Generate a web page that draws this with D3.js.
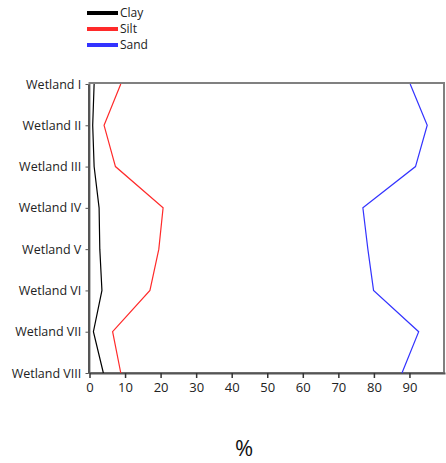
<!DOCTYPE html>
<html>
<head>
<meta charset="utf-8">
<script src="https://cdn.jsdelivr.net/npm/d3@7"></script>
<style>
  body { margin: 0; background: #fff; }
  svg { display: block; font-family: "Open Sans", "Noto Sans", sans-serif; }
</style>
</head>
<body>
<div id="chart"></div>
<script>
const wetlands = ["Wetland I", "Wetland II", "Wetland III", "Wetland IV",
                  "Wetland V", "Wetland VI", "Wetland VII", "Wetland VIII"];
const clay = [1.3, 0.9, 1.3, 2.7, 2.9, 3.5, 1.1, 3.9];
const silt = [8.8, 4.1, 7.3, 20.7, 19.5, 17.0, 6.5, 8.8];
const sand = [90.2, 95.0, 91.7, 76.9, 78.3, 79.9, 92.6, 87.9];
const xTicks = [0, 10, 20, 30, 40, 50, 60, 70, 80, 90];

const series = [
  { name: "Clay", values: clay, color: "#000" },
  { name: "Silt", values: silt, color: "#ff2a2a" },
  { name: "Sand", values: sand, color: "#3333ff" }
];

const width = 446, height = 463;
const margin = { top: 84, right: 1, bottom: 90, left: 89.5 };
const font = '"Open Sans", "Noto Sans", sans-serif';

const svg = d3.select("#chart").append("svg")
  .attr("width", width)
  .attr("height", height);

const x = d3.scaleLinear()
  .domain([0, 100])
  .range([margin.left, width - margin.right]);

const y = d3.scalePoint()
  .domain(wetlands)
  .range([margin.top, height - margin.bottom]);

// frame (top and right)
svg.append("rect")
  .attr("x", margin.left)
  .attr("y", margin.top - 1)
  .attr("width", width - margin.right - margin.left - 1)
  .attr("height", height - margin.bottom - margin.top + 1)
  .attr("fill", "none")
  .attr("stroke", "#808080")
  .attr("stroke-width", 2);

// x axis
const xAxis = svg.append("g")
  .attr("transform", `translate(0,${height - margin.bottom})`)
  .call(d3.axisBottom(x).tickValues(xTicks).tickSize(5).tickSizeOuter(0))
  .attr("font-family", font);
xAxis.select(".domain").attr("stroke", "#555").attr("stroke-width", 2);
xAxis.selectAll(".tick line").attr("stroke", "#333").attr("stroke-width", 1.5);
xAxis.selectAll("text").attr("font-size", 13).attr("fill", "#222").attr("dy", "0.85em");

// y axis
const yAxis = svg.append("g")
  .attr("transform", `translate(${margin.left - 1},0)`)
  .call(d3.axisLeft(y).tickSize(3).tickSizeOuter(0))
  .attr("font-family", font);
yAxis.select(".domain").attr("stroke", "#555").attr("stroke-width", 2);
yAxis.selectAll(".tick line").attr("stroke", "#555");
yAxis.selectAll("text").attr("font-size", 12.5).attr("fill", "#222").attr("dx", "-0.1em");

// lines
const line = d3.line()
  .x(d => x(d.v))
  .y(d => y(d.c));

series.forEach(s => {
  svg.append("path")
    .datum(s.values.map((v, i) => ({ v, c: wetlands[i] })))
    .attr("d", line)
    .attr("fill", "none")
    .attr("stroke", s.color)
    .attr("stroke-width", 1.2);
});

// legend
const legend = svg.append("g").attr("transform", "translate(87,13)");
series.forEach((s, i) => {
  const g = legend.append("g").attr("transform", `translate(0,${i * 16})`);
  g.append("line")
    .attr("x1", 0).attr("x2", 31)
    .attr("stroke", s.color)
    .attr("stroke-width", 4);
  g.append("text")
    .attr("x", 33)
    .attr("dy", "0.36em")
    .attr("font-size", 12)
    .attr("fill", "#222")
    .text(s.name);
});

// x axis title
svg.append("text")
  .attr("x", 244)
  .attr("y", 456)
  .attr("text-anchor", "middle")
  .attr("font-size", 22)
  .attr("fill", "#111")
  .text("%");
</script>
</body>
</html>
